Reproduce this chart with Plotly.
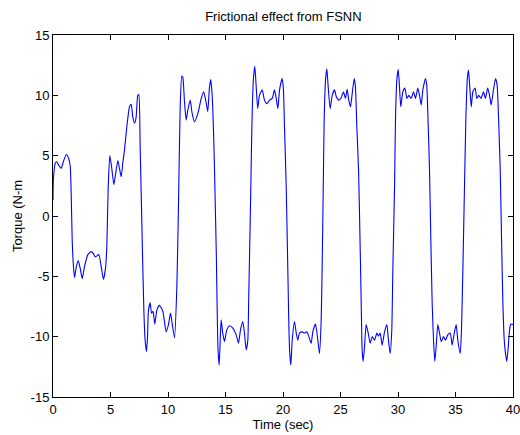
import plotly.graph_objects as go

time_sec = [
    0.0, 0.03, 0.2, 0.33, 0.5, 0.71, 0.9, 1.15, 1.35, 1.5, 1.58, 1.67, 1.78, 1.87, 2.01, 2.19, 2.36, 2.54, 2.74,
    3.03, 3.32, 3.5, 3.67, 3.98, 4.19, 4.39, 4.57, 4.68, 4.8, 4.94, 5.09, 5.29, 5.43, 5.64, 5.78, 5.93, 6.07,
    6.22, 6.42, 6.65, 6.8, 6.94, 7.09, 7.23, 7.37, 7.46, 7.58, 7.75, 7.9, 8.01, 8.13, 8.22, 8.3, 8.45, 8.57,
    8.7, 8.85, 9.03, 9.26, 9.55, 9.84, 10.04, 10.22, 10.36, 10.57, 10.77, 10.91, 11.06, 11.2, 11.29, 11.43,
    11.58, 11.7, 11.93, 12.1, 12.3, 12.6, 12.89, 13.1, 13.3, 13.46, 13.6, 13.72, 13.84, 13.96, 14.05, 14.2,
    14.28, 14.35, 14.45, 14.54, 14.62, 14.76, 14.91, 15.11, 15.35, 15.64, 15.93, 16.13, 16.3, 16.5, 16.65,
    16.8, 16.94, 17.02, 17.15, 17.26, 17.32, 17.43, 17.55, 17.67, 17.8, 17.95, 18.19, 18.39, 18.59, 18.83,
    19.06, 19.26, 19.41, 19.55, 19.7, 19.93, 20.04, 20.13, 20.28, 20.42, 20.5, 20.57, 20.68, 20.8, 21.0,
    21.15, 21.29, 21.43, 21.67, 21.87, 22.07, 22.25, 22.45, 22.59, 22.83, 23.03, 23.17, 23.32, 23.4, 23.5,
    23.58, 23.7, 23.81, 23.93, 24.1, 24.28, 24.48, 24.63, 24.85, 25.06, 25.26, 25.43, 25.58, 25.72, 25.87,
    26.0, 26.19, 26.3, 26.42, 26.57, 26.72, 26.8, 26.88, 26.97, 27.09, 27.23, 27.41, 27.58, 27.76, 27.96,
    28.16, 28.3, 28.45, 28.62, 28.83, 29.03, 29.17, 29.32, 29.46, 29.55, 29.7, 29.78, 29.9, 30.02, 30.13,
    30.24, 30.42, 30.6, 30.77, 30.94, 31.15, 31.35, 31.52, 31.72, 31.87, 32.02, 32.16, 32.39, 32.5, 32.63,
    32.74, 32.85, 32.97, 33.09, 33.2, 33.32, 33.46, 33.61, 33.76, 33.96, 34.13, 34.33, 34.54, 34.71, 34.91,
    35.06, 35.2, 35.41, 35.52, 35.64, 35.78, 35.9, 36.02, 36.13, 36.24, 36.37, 36.51, 36.71, 36.85, 37.02,
    37.23, 37.43, 37.6, 37.8, 37.96, 38.1, 38.3, 38.48, 38.62, 38.77, 38.89, 39.0, 39.12, 39.24, 39.35,
    39.46, 39.58, 39.7, 39.81, 40.0,
]

torque_nm = [
    1.3, 3.0, 4.4, 4.5, 4.2, 3.95, 4.5, 5.1, 4.8, 4.1, 1.9, -2.0, -4.2, -5.1, -4.3, -3.7, -4.3, -5.2, -4.2,
    -3.2, -2.95, -3.1, -3.4, -3.2, -4.2, -5.25, -4.3, -2.5, 2.4, 5.0, 4.1, 2.6, 3.4, 4.6, 3.95, 3.25, 4.4,
    5.5, 7.4, 9.05, 9.25, 8.2, 7.7, 8.2, 10.0, 10.05, 5.7, -1.7, -7.8, -10.3, -11.25, -10.0, -7.8, -7.2, -8.05,
    -7.9, -8.95, -7.8, -7.4, -7.9, -9.6, -9.0, -8.05, -8.9, -10.1, -5.85, 0.8, 9.05, 11.6, 11.5, 9.5,
    7.95, 8.65, 9.6, 8.5, 7.8, 8.5, 9.75, 10.3, 9.5, 8.65, 10.6, 11.3, 10.0, 7.0, 3.6, -3.1,
    -8.0, -11.1, -12.35, -10.3, -8.6, -9.7, -10.4, -9.45, -9.1, -9.3, -9.85, -10.55, -9.45, -8.75, -9.7,
    -11.1, -10.3, -6.7, -0.3, 5.7, 8.5, 11.4, 12.4, 10.7, 8.9, 10.0, 10.45, 9.6, 9.3, 9.6,
    9.75, 10.45, 9.75, 8.9, 10.45, 11.4, 10.45, 7.4, 2.4, -4.5, -8.6, -11.1, -12.35, -10.3, -8.75,
    -9.7, -10.3, -9.7, -9.6, -9.7, -9.6, -10.0, -10.55, -9.6, -8.95, -10.3, -11.4, -8.6, -4.5, 2.4,
    7.95, 11.3, 12.2, 10.7, 8.9, 10.0, 10.45, 9.9, 9.6, 9.8, 10.3, 9.75, 10.5, 9.6, 9.05,
    10.0, 11.4, 10.7, 7.4, 3.8, -3.1, -7.2, -11.1, -12.05, -10.8, -9.0, -9.7, -10.55, -10.0, -10.3,
    -9.7, -9.95, -9.7, -10.7, -9.6, -9.0, -10.3, -11.4, -9.45, -4.5, 2.4, 7.95, 11.3, 12.15, 10.7,
    9.05, 10.3, 10.6, 9.75, 10.0, 9.75, 10.3, 9.75, 10.6, 10.0, 9.2, 10.45, 11.4, 10.85, 7.4,
    3.8, -1.7, -7.2, -10.3, -12.05, -10.8, -9.0, -9.7, -10.4, -10.0, -10.3, -9.85, -9.7, -10.7, -9.6,
    -9.0, -10.3, -11.4, -9.45, -4.5, 2.4, 7.95, 11.3, 12.1, 10.7, 9.05, 10.3, 10.6, 9.75, 10.0,
    9.75, 10.3, 9.75, 10.6, 10.0, 9.2, 10.45, 11.4, 10.85, 7.4, 3.8, -1.7, -7.2, -10.3, -11.4,
    -12.05, -10.95, -9.45, -8.95, -9.0,
]

x_ticks = [0, 5, 10, 15, 20, 25, 30, 35, 40]
y_ticks = [-15, -10, -5, 0, 5, 10, 15]

title_text = "Frictional effect from FSNN"
x_label = "Time (sec)"
y_label = "Torque (N-m"

FONT = "Liberation Sans, Arial, sans-serif"

fig = go.Figure()
fig.add_trace(go.Scatter(
    x=time_sec, y=torque_nm, mode="lines",
    line=dict(color="#0000FF", width=1.1, shape="spline", smoothing=0.5),
    showlegend=False, hoverinfo="skip",
))

axis_common = dict(
    showline=True, linecolor="black", linewidth=1, mirror="ticks",
    ticks="inside", ticklen=5, tickwidth=1, tickcolor="black",
    showgrid=False, zeroline=False,
    tickfont=dict(family=FONT, size=13, color="black"),
    automargin=False, ticklabeloverflow="allow",
)

fig.update_layout(
    width=520, height=435,
    margin=dict(l=53, r=7, t=35, b=38),
    paper_bgcolor="white", plot_bgcolor="white",
    font=dict(family=FONT, size=13, color="black"),
    title=dict(text=title_text, x=0.545, xanchor="center", y=1 - 16 / 435, yanchor="middle",
               yref="container", font=dict(family=FONT, size=13, color="black")),
    xaxis=dict(range=[0, 40], tickvals=x_ticks, ticktext=[str(v) for v in x_ticks],
               title=dict(text=x_label, font=dict(family=FONT, size=13), standoff=0), **axis_common),
    yaxis=dict(range=[-15, 15], tickvals=y_ticks, ticktext=[str(v) for v in y_ticks],
               title=dict(text=y_label, font=dict(family=FONT, size=13), standoff=5), **axis_common),
)

fig.write_html(
    "out.html",
    config={"displayModeBar": False},
    post_script="document.body.style.margin='0';document.body.style.overflow='hidden';",
)
